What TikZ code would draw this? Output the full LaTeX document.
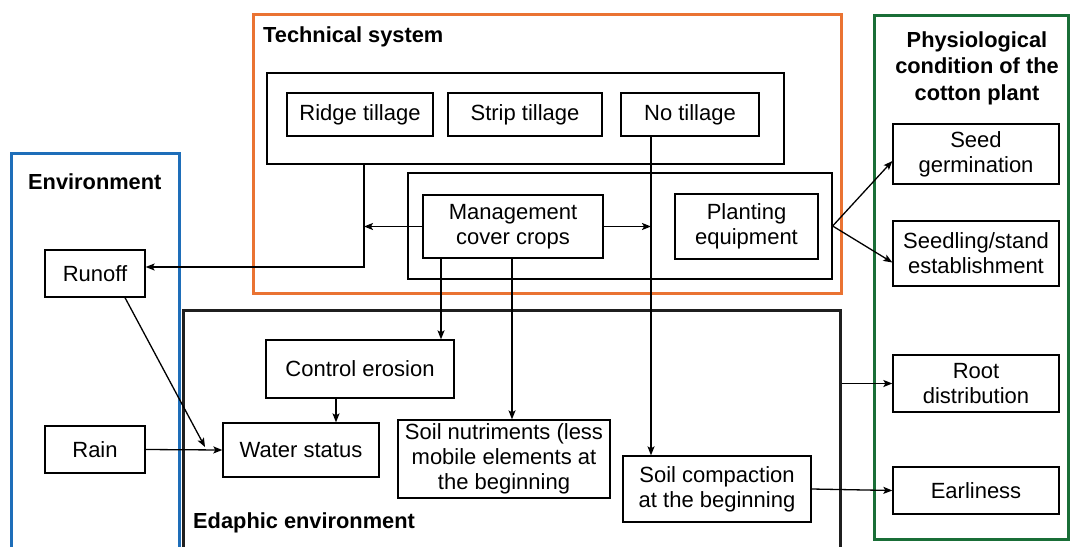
\documentclass[tikz,border=0pt]{standalone}
\usepackage{fontspec}
\setmainfont{Liberation Sans}
\usetikzlibrary{arrows.meta}
\definecolor{techorange}{RGB}{234,115,50}
\definecolor{envblue}{RGB}{30,110,185}
\definecolor{plantgreen}{RGB}{25,110,55}

\tikzset{
  box/.style={draw, line width=1.3pt, inner sep=0pt, align=center, font=\fontsize{22}{25}\selectfont},
  frame/.style={draw, line width=3pt, inner sep=0pt},
  title/.style={font=\fontsize{21.8}{26.5}\selectfont\bfseries, inner sep=0pt},
  arr/.style={-{Stealth[length=9pt,width=7pt,inset=2pt]}, line width=1.3pt},
}

\begin{document}
\begin{tikzpicture}[x=1pt,y=-1pt]
	\useasboundingbox (0,0) rectangle (1070,546);
	% frames
	\node[frame, draw=techorange, minimum width=588pt, minimum height=279pt] (tech) at (547,153.5) {};
	\node[frame, draw=envblue, minimum width=168pt, minimum height=407pt] (env) at (95,356.5) {};
	\node[frame, draw=black!88, minimum width=657pt, minimum height=250pt] (edaph) at (511.5,435) {};
	\node[frame, draw=plantgreen, minimum width=194pt, minimum height=524pt] (plant) at (971,277) {};
	\node[title, anchor=west] (techtitle) at (263,37) {Technical system};
	\node[title, anchor=west] (envtitle) at (28,182) {Environment};
	\node[title, anchor=west] (edtitle) at (193,523) {Edaphic environment};
	\node[title, align=center] (planttitle) at (977,68) {Physiological\\condition of the\\cotton plant};
	% technical system
	\node[box, minimum width=517pt, minimum height=91pt] (tillage) at (525.5,118.5) {};
	\node[box, minimum width=146pt, minimum height=43pt] (ridge) at (360,114.5) {Ridge tillage};
	\node[box, minimum width=154pt, minimum height=43pt] (strip) at (525,114.5) {Strip tillage};
	\node[box, minimum width=138pt, minimum height=43pt] (notill) at (690,114.5) {No tillage};
	\node[box, minimum width=424pt, minimum height=106pt] (cover) at (620,226) {};
	\node[box, minimum width=180pt, minimum height=63pt] (mgmt) at (513,226.5) {Management\\cover crops};
	\node[box, minimum width=143pt, minimum height=65pt] (equip) at (746.5,226.5) {Planting\\equipment};
	% environment
	\node[box, minimum width=100pt, minimum height=47pt] (runoff) at (95,273.5) {Runoff};
	\node[box, minimum width=100pt, minimum height=47pt] (rain) at (95,449.5) {Rain};
	% edaphic environment
	\node[box, minimum width=188pt, minimum height=58pt] (erosion) at (360,369) {Control erosion};
	\node[box, minimum width=156pt, minimum height=54pt] (water) at (301,450) {Water status};
	\node[box, minimum width=212pt, minimum height=78pt] (nutri) at (504,459) {Soil nutriments (less\\mobile elements at\\the beginning};
	\node[box, minimum width=188pt, minimum height=66pt] (compact) at (717,489) {Soil compaction\\at the beginning};
	% cotton plant
	\node[box, minimum width=166pt, minimum height=60pt] (seed) at (976,154) {Seed\\germination};
	\node[box, minimum width=166pt, minimum height=65pt] (seedling) at (976,253.5) {Seedling/stand\\establishment};
	\node[box, minimum width=166pt, minimum height=57pt] (root) at (976,383.5) {Root\\distribution};
	\node[box, minimum width=166pt, minimum height=47pt] (earli) at (976,490.5) {Earliness};
	% connectors
	\coordinate (xr) at (364,267);
	\coordinate (xn) at (651,0);
	\coordinate (xe) at (441,0);
	\coordinate (xs) at (512,0);
	\coordinate (xw) at (336,0);
	\coordinate (xo) at (125,0);
	\coordinate (wend) at (205,447);
	\draw[arr] (tillage.south -| xr) |- (runoff.east |- xr);
	\draw[arr] (mgmt.west) -- (mgmt.west -| xr);
	\draw[arr] (mgmt.east) -- (mgmt.east -| xn);
	\draw[arr] (notill.south -| xn) -- (compact.north -| xn);
	\draw[arr] (mgmt.south -| xe) -- (erosion.north -| xe);
	\draw[arr] (mgmt.south -| xs) -- (nutri.north -| xs);
	\draw[arr] (erosion.south -| xw) -- (water.north -| xw);
	\draw[arr] (runoff.south -| xo) -- (wend);
	\draw[arr] (rain.east) -- (water.west);
	\draw[arr] (cover.east) -- ([yshift=-7pt]seed.west);
	\draw[arr] (cover.east) -- ([yshift=-9pt]seedling.west);
	\draw[arr] (edaph.east |- root.west) -- (root.west);
	\draw[arr] (compact.east) -- (earli.west);
\end{tikzpicture}
\end{document}
